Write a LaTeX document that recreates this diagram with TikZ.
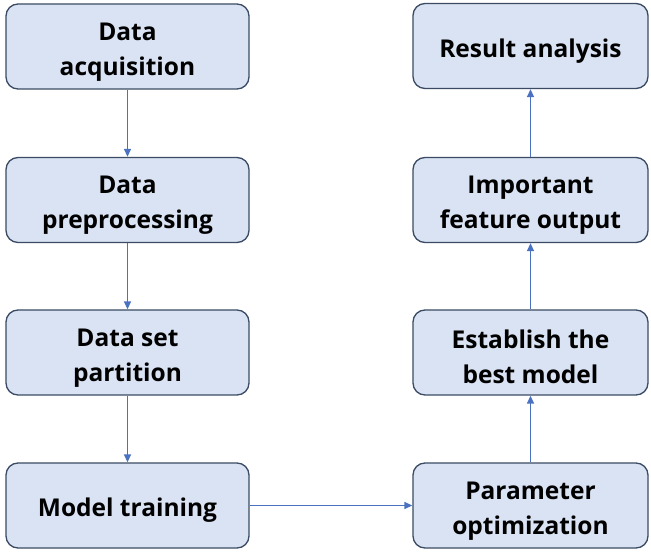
\documentclass[tikz,border=0pt]{standalone}
\usepackage{fontspec}
\setmainfont{Open Sans}
\usetikzlibrary{arrows.meta}
\definecolor{boxfill}{HTML}{DAE3F3}
\definecolor{boxline}{HTML}{3A4B63}
\definecolor{arrowcol}{HTML}{4A72C0}
% strut that lowers the first text line inside the boxes
\newcommand\boxstrut{\rule{0pt}{28pt}}
\begin{document}
\begin{tikzpicture}[x=1pt,y=1pt,
  stepbox/.style={draw=boxline, line width=1.3pt, fill=boxfill, rounded corners=12pt,
    minimum width=243pt, minimum height=85pt, align=center, inner sep=2pt,
    font=\fontsize{24.5}{35}\selectfont\bfseries},
  rstepbox/.style={stepbox, minimum width=235pt},
  link/.style={draw=arrowcol, line width=1.4pt, -{Triangle[length=8pt,width=7pt]}}]
  \useasboundingbox (0,0) rectangle (651,552);
  % left column
  \node[stepbox] (acq)  at (127.5,505.5) {\boxstrut Data\\acquisition};
  \node[stepbox] (prep) at (127.5,352) {\boxstrut Data\\preprocessing};
  \node[stepbox] (part) at (127.5,199.5) {\boxstrut Data set\\partition};
  \node[stepbox] (train) at (127.5,46.5) {\boxstrut Model training};
  % right column
  \node[rstepbox] (param) at (530.5,46.5) {\boxstrut Parameter\\optimization};
  \node[rstepbox] (best)  at (530.5,199.5) {\boxstrut Establish the\\best model};
  \node[rstepbox] (feat)  at (530.5,352) {\boxstrut Important\\feature output};
  \node[rstepbox] (res)   at (530.5,506) {\boxstrut Result analysis};
  % connectors
  \draw[link] (acq) -- (prep);
  \draw[link] (prep) -- (part);
  \draw[link] (part) -- (train);
  \draw[link] (train) -- (param);
  \draw[link] (param) -- (best);
  \draw[link] (best) -- (feat);
  \draw[link] (feat) -- (res);
\end{tikzpicture}
\end{document}
